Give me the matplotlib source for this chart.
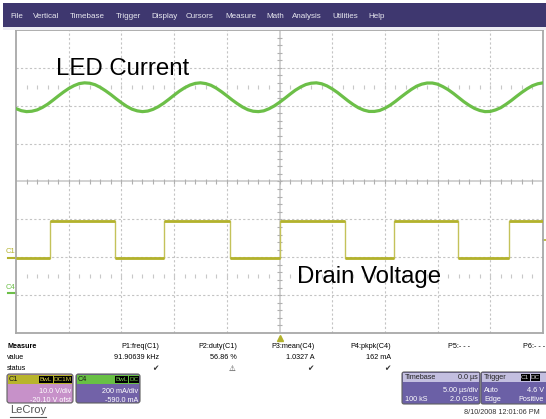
import numpy as np
import matplotlib
matplotlib.use('Agg')
import matplotlib.pyplot as plt
from matplotlib.patches import Rectangle, FancyBboxPatch

# ---------------- data ----------------
t_us = np.linspace(-25, 25, 101)          # sample times, microseconds
led_current_A = [
    0.975, 0.964, 0.959, 0.961, 0.968, 0.981, 0.998, 1.019, 1.041, 1.062,
    1.081, 1.096, 1.107, 1.111, 1.109, 1.101, 1.087, 1.069, 1.049, 1.027,
    1.006, 0.987, 0.972, 0.963, 0.959, 0.962, 0.971, 0.985, 1.003, 1.024,
    1.046, 1.067, 1.085, 1.099, 1.108, 1.111, 1.107, 1.098, 1.083, 1.064,
    1.043, 1.021, 1.001, 0.983, 0.969, 0.961, 0.959, 0.963, 0.974, 0.989,
    1.008, 1.029, 1.051, 1.072, 1.089, 1.102, 1.109, 1.111, 1.106, 1.095,
    1.079, 1.060, 1.038, 1.016, 0.996, 0.979, 0.967, 0.960, 0.960, 0.965,
    0.977, 0.993, 1.013, 1.035, 1.056, 1.076, 1.093, 1.104, 1.110, 1.110,
    1.104, 1.091, 1.075, 1.055, 1.033, 1.011, 0.992, 0.976, 0.965, 0.959,
    0.960, 0.968, 0.980, 0.998, 1.018, 1.040, 1.061, 1.080, 1.096, 1.106,
    1.111]
drain_t_us = [-25.0, -21.8, -15.65, -11.0, -4.74, 0.0, 6.17, 10.82, 16.98, 21.73, 25.0]
drain_V = [0.0, 9.55, 0.0, 9.55, 0.0, 9.55, 0.0, 9.55, 0.0, 9.55, 9.55]

C1_SCALE, C1_OFFSET = 10.0, -20.10      # V/div, V
C4_SCALE, C4_OFFSET = 0.200, -0.590     # A/div, A
TRIG_LEVEL = 4.6                        # V

menu_items = ['File', 'Vertical', 'Timebase', 'Trigger', 'Display', 'Cursors',
              'Measure', 'Math', 'Analysis', 'Utilities', 'Help']
meas_headers = ['P1:freq(C1)', 'P2:duty(C1)', 'P3:mean(C4)', 'P4:pkpk(C4)', 'P5:- - -', 'P6:- - -']
meas_values = ['91.90639 kHz', '56.86 %', '1.0327 A', '162 mA', '', '']
meas_status = ['\u2714', '\u26a0', '\u2714', '\u2714', '', '']

# ---------------- colours ----------------
YEL = '#b3b22c'
GRN = '#6cbf48'
PURPLE = '#3e376f'
GRID = '#c4c4c4'
FONT = 'Liberation Sans'

W, H = 546, 419
fig = plt.figure(figsize=(W / 100, H / 100), dpi=100)
fig.patch.set_facecolor('white')

# ---------------- scope graticule ----------------
L, T, R, B = 16, 30, 543, 333
ax = fig.add_axes([L / W, 1 - B / H, (R - L) / W, (B - T) / H])
ax.set_xlim(-25, 25)
ax.set_ylim(-4, 4)
ax.set_xticks([]); ax.set_yticks([])
for s in ax.spines.values():
    s.set_color('#a8a8a8'); s.set_linewidth(1.3)

for xv in range(-20, 25, 5):
    if xv != 0:
        ax.axvline(xv, color=GRID, lw=0.8, ls=(0, (2, 2)), zorder=1)
for yv in range(-3, 4):
    if yv != 0:
        ax.axhline(yv, color=GRID, lw=0.8, ls=(0, (2, 2)), zorder=1)
# centre axes with minor ticks
ax.axhline(0, color='#d2d2d2', lw=1.4, zorder=1)
ax.axvline(0, color='#d2d2d2', lw=1.4, zorder=1)
minor_t = np.arange(-24, 25, 1)
minor_d = np.arange(-3.8, 4.0, 0.2)
ax.vlines(minor_t, -0.06, 0.06, color='#b0b0b0', lw=0.8, zorder=1)
ax.hlines(minor_d, -0.22, 0.22, color='#b0b0b0', lw=0.8, zorder=1)
for yy in (2.5, -2.5):
    ax.plot(minor_t, [yy] * len(minor_t), ls='none', marker='|', ms=2.2,
            mew=0.8, color='#c8c8c8', zorder=1)

# traces
c4_div = (np.array(led_current_A) + C4_OFFSET) / C4_SCALE
ax.plot(t_us, c4_div, color=GRN, lw=2.3, solid_joinstyle='round', zorder=3)
c1_div = (np.array(drain_V) + C1_OFFSET) / C1_SCALE
# edges (thin) and levels (thicker)
ax.step(drain_t_us, c1_div, where='post', color='#c4c25a', lw=1.0, zorder=3)
ax.hlines(c1_div[:-1], drain_t_us[:-1], drain_t_us[1:], color=YEL, lw=2.0, zorder=4)

# channel ground markers / trigger markers
c1_gnd = C1_OFFSET / C1_SCALE
c4_gnd = C4_OFFSET / C4_SCALE
ax.plot([-25.8, -25.0], [c1_gnd, c1_gnd], color=YEL, lw=1.5, clip_on=False)
ax.text(-26.0, c1_gnd + 0.06, 'C1', color=YEL, fontsize=5.5, family=FONT,
        ha='left', va='bottom', rotation=0, clip_on=False)
ax.plot([-25.8, -25.0], [c4_gnd, c4_gnd], color=GRN, lw=1.5, clip_on=False)
ax.text(-26.0, c4_gnd + 0.06, 'C4', color=GRN, fontsize=5.5, family=FONT,
        ha='left', va='bottom', rotation=0, clip_on=False)
trig_div = (TRIG_LEVEL + C1_OFFSET) / C1_SCALE
ax.plot([25.0, 25.3], [trig_div, trig_div], color=YEL, lw=1.2, clip_on=False)
ax.plot([0], [-4.12], marker='^', ms=5, color=YEL, clip_on=False, zorder=5)

# annotations
ax.text(-21.2, 2.82, 'LED Current', fontsize=17.3, family=FONT, color='black',
        ha='left', va='baseline', zorder=6)
ax.text(1.7, -2.67, 'Drain Voltage', fontsize=17.3, family=FONT, color='black',
        ha='left', va='baseline', zorder=6)

# ---------------- UI overlay (pixel coordinates) ----------------
ui = fig.add_axes([0, 0, 1, 1], facecolor='none')
ui.set_xlim(0, W); ui.set_ylim(H, 0); ui.axis('off')

ui.add_patch(Rectangle((3, 3), W - 3, 24, color=PURPLE, lw=0))
ui.add_patch(Rectangle((3, 27), W - 3, 3, color='#ececf4', lw=0))
menu_x = [10, 33, 70, 116, 151, 186, 225, 266, 292, 332, 368]
for name, xm in zip(menu_items, menu_x):
    ui.text(xm, 16, name, color='#e8e8f0', fontsize=5.8, family=FONT,
            ha='left', va='center')

# measurement table
ui.text(7, 346, 'Measure', fontsize=5.2, family=FONT, weight='bold', va='center')
ui.text(7, 357, 'value', fontsize=5.2, family=FONT, va='center')
ui.text(7, 368, 'status', fontsize=5.2, family=FONT, va='center')
col_right = [159, 237, 315, 391, 470, 545]
for i, h in enumerate(meas_headers):
    ui.text(col_right[i], 346, h, fontsize=5.2, family=FONT, ha='right', va='center')
for i, v in enumerate(meas_values):
    if v:
        ui.text(col_right[i], 357, v, fontsize=5.2, family=FONT, ha='right', va='center')
stat_x = [155, 232, 310, 387]
for i, s in enumerate(meas_status):
    if s:
        ui.text(stat_x[i], 368, s, fontsize=5.5, family='DejaVu Sans', ha='center',
                va='center', color='#333333')


def chan_box(x0, x1, head_col, body_col, name, badges, line1, line2, badge_col):
    y0, y1 = 374, 403
    ui.add_patch(FancyBboxPatch((x0, y0), x1 - x0, y1 - y0,
                                boxstyle='round,pad=0,rounding_size=2.5',
                                fc=body_col, ec='#606060', lw=0.8))
    ui.add_patch(Rectangle((x0 + 0.8, y0 + 0.8), x1 - x0 - 1.6, 9.5, color=head_col, lw=0))
    ui.text(x0 + 2, y0 + 5.5, name, fontsize=5.2, family=FONT, color='#1a1a1a', va='center')
    bx = x1 - 1.5
    for b in reversed(badges):
        w = 4.2 * len(b) + 1
        ui.add_patch(Rectangle((bx - w, y0 + 1.8), w, 7.5, color='black', lw=0))
        ui.text(bx - w / 2, y0 + 5.6, b, fontsize=4.6, family=FONT, color=badge_col,
                ha='center', va='center')
        bx -= w + 0.8
    ui.text(x1 - 1.5, 391, line1, fontsize=5.2, family=FONT, color='white', ha='right', va='center')
    ui.text(x1 - 1.5, 400, line2, fontsize=5.2, family=FONT, color='white', ha='right', va='center')


chan_box(7, 73, '#b8b42c', '#c791c9', 'C1', ['BwL', 'DC1M'],
         f'{C1_SCALE:.1f} V/div', f'{C1_OFFSET:.2f} V ofst', '#d8d040')
chan_box(76, 140, '#68c044', '#7262a8', 'C4', ['BwL', 'DC'],
         f'{C4_SCALE * 1000:.0f} mA/div', f'{C4_OFFSET * 1000:.1f} mA', '#78d050')

# timebase box
ui.add_patch(FancyBboxPatch((402, 372), 78, 32, boxstyle='round,pad=0,rounding_size=2',
                            fc='#6b60a6', ec='#606060', lw=0.8))
ui.add_patch(Rectangle((402.8, 372.8), 76.4, 9, color='#c3bfe0', lw=0))
ui.text(405, 377.5, 'Timebase', fontsize=5.2, family=FONT, color='#222222', va='center')
ui.text(478, 377.5, '0.0 \u00b5s', fontsize=5.2, family=FONT, color='#222222', ha='right', va='center')
ui.text(478, 390, '5.00 \u00b5s/div', fontsize=5.2, family=FONT, color='white', ha='right', va='center')
ui.text(405, 399, '100 kS', fontsize=5.2, family=FONT, color='white', va='center')
ui.text(478, 399, '2.0 GS/s', fontsize=5.2, family=FONT, color='white', ha='right', va='center')

# trigger box
ui.add_patch(FancyBboxPatch((481, 372), 70, 32, boxstyle='round,pad=0,rounding_size=2',
                            fc='#6b60a6', ec='#606060', lw=0.8))
ui.add_patch(Rectangle((481.8, 372.8), 70, 9, color='#c3bfe0', lw=0))
ui.text(484, 377.5, 'Trigger', fontsize=5.2, family=FONT, color='#222222', va='center')
for bx, b in [(525, 'C1'), (535, 'DC')]:
    ui.add_patch(Rectangle((bx - 4.5, 374), 9.5, 7, color='black', lw=0))
    ui.text(bx + 0.2, 377.6, b, fontsize=4.6, family=FONT, color='#d0d0d0', ha='center', va='center')
ui.text(484, 390, 'Auto', fontsize=5.2, family=FONT, color='white', va='center')
ui.text(544, 390, f'{TRIG_LEVEL:.1f} V', fontsize=5.2, family=FONT, color='white', ha='right', va='center')
ui.text(484, 399, 'Edge', fontsize=5.2, family=FONT, color='white', va='center')
ui.text(544, 399, 'Positive', fontsize=5.2, family=FONT, color='white', ha='right', va='center')

ui.text(540, 412, '8/10/2008 12:01:06 PM', fontsize=5.2, family=FONT, color='#333333',
        ha='right', va='center')
ui.text(10, 410, 'LeCroy', fontsize=8, family=FONT, color='#555555', va='center')
ui.plot([10, 46], [416.5, 416.5], color='#555555', lw=0.8)

fig.savefig('out.png', dpi=100, facecolor='white')
